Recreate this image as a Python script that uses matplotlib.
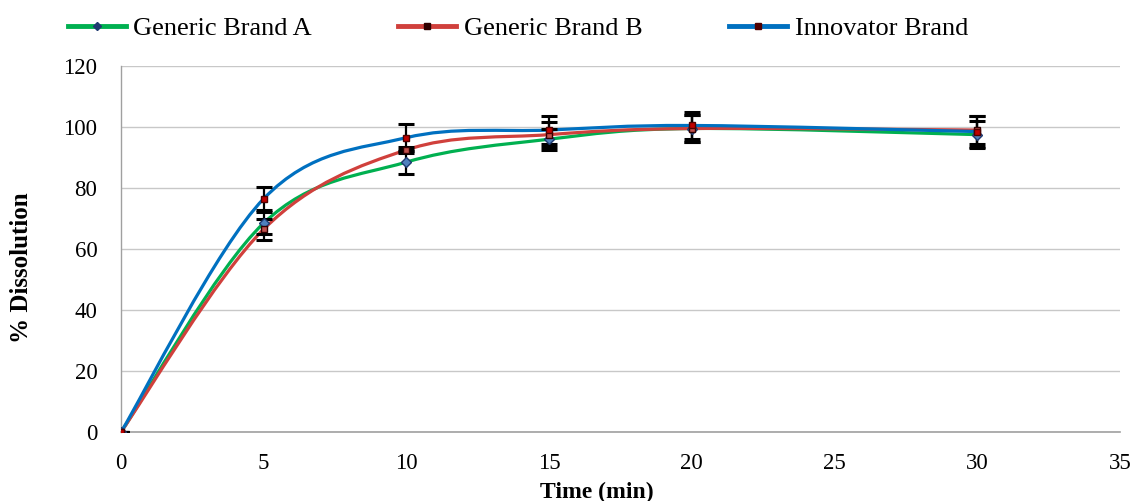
import numpy as np
import matplotlib
matplotlib.use("Agg")
import matplotlib.pyplot as plt
from matplotlib.path import Path
from matplotlib.patches import PathPatch
from matplotlib.lines import Line2D

plt.rcParams['font.family'] = ['Liberation Serif', 'DejaVu Serif']

time = [0, 5, 10, 15, 20, 30]
brand_a = [0, 68.5, 88.5, 96.0, 99.5, 97.5]
brand_b = [0, 66.5, 92.5, 97.5, 99.5, 99.0]
innovator = [0, 76.5, 96.5, 99.0, 100.5, 98.5]
err_a = [0, 3.5, 4.0, 3.5, 4.5, 4.5]
err_b = [0, 3.5, 1.0, 4.0, 4.5, 4.5]
err_i = [0, 3.7, 4.5, 4.5, 4.5, 5.0]

series_names = ["Generic Brand A", "Generic Brand B", "Innovator Brand"]
line_colors = ["#00b050", "#d0403c", "#0070c0"]
marker_styles = ["D", "s", "s"]
marker_faces = ["#4f81bd", "#c0504d", "#c00000"]
marker_edges = ["#1f3a70", "#300000", "#500000"]

fig = plt.figure(figsize=(11.41, 5.01), dpi=100)
ax = fig.add_axes([121/1141, 1-432/501, (1120-121)/1141, (432-66)/501])


def smooth_path(x, y):
    pts = np.column_stack([x, y]).astype(float)
    n = len(pts)
    verts = [pts[0]]
    codes = [Path.MOVETO]
    for i in range(n - 1):
        p0 = pts[i - 1] if i > 0 else pts[i]
        p1 = pts[i]
        p2 = pts[i + 1]
        p3 = pts[i + 2] if i + 2 < n else pts[i + 1]
        c1 = p1 + (p2 - p0) / 6.0
        c2 = p2 - (p3 - p1) / 6.0
        verts += [c1, c2, p2]
        codes += [Path.CURVE4] * 3
    return Path(verts, codes)


ys = [brand_a, brand_b, innovator]
errs = [err_a, err_b, err_i]
order = [2, 0, 1]
for k in order:
    patch = PathPatch(smooth_path(time, ys[k]), fill=False,
                      edgecolor=line_colors[k], lw=2.3, zorder=2 + k * 0.1)
    ax.add_patch(patch)

for k in range(3):
    ax.errorbar(time, ys[k], yerr=errs[k], fmt='none', ecolor='black',
                elinewidth=1.6, capsize=6, capthick=2.2, zorder=4)

for k in range(3):
    ax.plot(time, ys[k], linestyle='none', marker=marker_styles[k],
            markersize=5, markerfacecolor=marker_faces[k],
            markeredgecolor=marker_edges[k], markeredgewidth=1, zorder=5)

ax.set_xlim(0, 35)
ax.set_ylim(0, 120)
ax.set_xticks(range(0, 36, 5))
ax.set_yticks(range(0, 121, 20))
ax.yaxis.grid(True, color='#c8c8c8', lw=1.0)
ax.set_axisbelow(True)
for s in ['top', 'right']:
    ax.spines[s].set_visible(False)
ax.spines['left'].set_color('#a0a0a0')
ax.spines['bottom'].set_color('#a0a0a0')
ax.spines['left'].set_linewidth(1.0)
ax.spines['bottom'].set_linewidth(1.2)
ax.tick_params(axis='both', length=0, labelsize=16.5)
ax.tick_params(axis='x', pad=15)
ax.tick_params(axis='y', pad=17)

ax.set_ylabel("% Dissolution", fontsize=18, fontweight='bold')
ax.yaxis.set_label_coords(-0.088, 0.45)
ax.set_xlabel("Time (min)", fontsize=17, fontweight='bold', va='top')
ax.xaxis.set_label_coords(0.476, -0.135)

handles = [Line2D([], [], color=line_colors[k], lw=3.5, marker=marker_styles[k],
                  markersize=4, markerfacecolor=marker_edges[k],
                  markeredgecolor=marker_edges[k]) for k in range(3)]
fig.legend(handles, series_names, loc='upper left', ncol=3, frameon=False,
           bbox_to_anchor=(57/1141, 1 - 6/501), fontsize=19, handlelength=2.2,
           handletextpad=0.27, columnspacing=3.3, borderaxespad=0.2,
           borderpad=0.2)

fig.savefig("out.png", dpi=100)
